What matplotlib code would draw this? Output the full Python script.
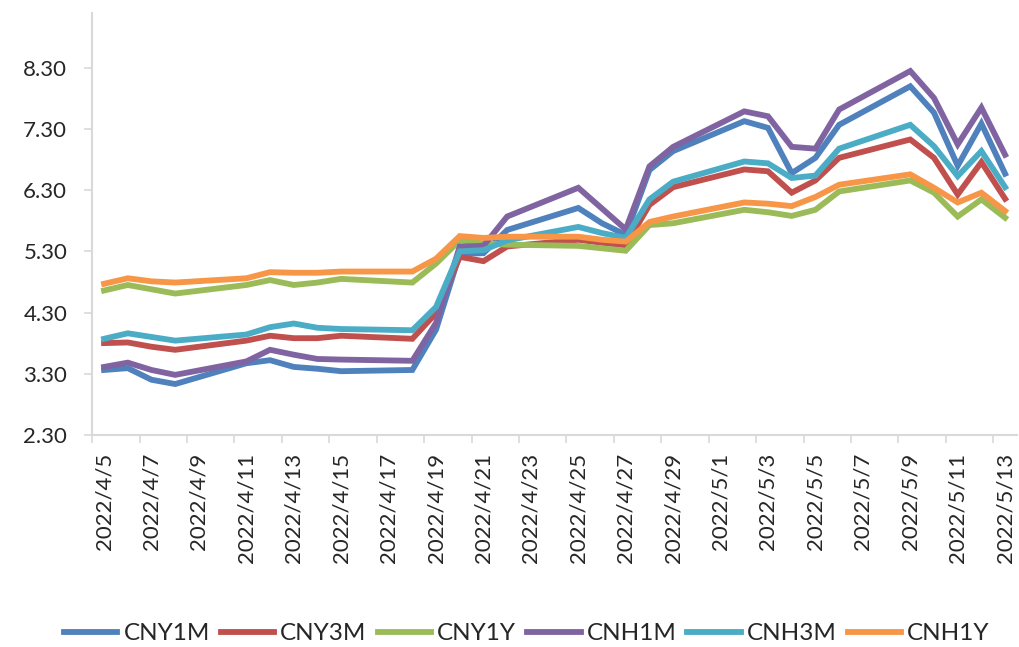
import numpy as np
import pandas as pd
import matplotlib
matplotlib.use("Agg")
import matplotlib.pyplot as plt
from matplotlib.ticker import FixedLocator, FormatStrFormatter

# trading days shown as vertices on the chart
dates = ["2022-04-05", "2022-04-06", "2022-04-07", "2022-04-08", "2022-04-11",
         "2022-04-12", "2022-04-13", "2022-04-14", "2022-04-15", "2022-04-18",
         "2022-04-19", "2022-04-20", "2022-04-21", "2022-04-22", "2022-04-25",
         "2022-04-26", "2022-04-27", "2022-04-28", "2022-04-29", "2022-05-02",
         "2022-05-03", "2022-05-04", "2022-05-05", "2022-05-06", "2022-05-09",
         "2022-05-10", "2022-05-11", "2022-05-12", "2022-05-13"]

cny1m = [3.36, 3.39, 3.20, 3.13, 3.47, 3.52, 3.41, 3.38, 3.34, 3.36,
         4.02, 5.26, 5.27, 5.65, 6.01, 5.76, 5.57, 6.63, 6.94, 7.43,
         7.32, 6.58, 6.83, 7.37, 8.00, 7.57, 6.70, 7.39, 6.57]
cny3m = [3.80, 3.81, 3.74, 3.69, 3.84, 3.92, 3.88, 3.88, 3.92, 3.87,
         4.29, 5.21, 5.14, 5.38, 5.49, 5.44, 5.40, 6.06, 6.35, 6.64,
         6.61, 6.26, 6.46, 6.83, 7.13, 6.83, 6.23, 6.76, 6.16]
cny1y = [4.66, 4.75, 4.68, 4.61, 4.75, 4.83, 4.75, 4.79, 4.85, 4.79,
         5.10, 5.48, 5.43, 5.41, 5.39, 5.35, 5.31, 5.73, 5.76, 5.98,
         5.94, 5.88, 5.98, 6.28, 6.46, 6.26, 5.87, 6.15, 5.85]
cnh1m = [3.41, 3.48, 3.36, 3.28, 3.50, 3.69, 3.61, 3.54, 3.53, 3.51,
         4.13, 5.38, 5.39, 5.87, 6.34, 6.00, 5.66, 6.69, 7.01, 7.59,
         7.51, 7.01, 6.98, 7.62, 8.25, 7.81, 7.05, 7.65, 6.88]
cnh3m = [3.87, 3.96, 3.90, 3.84, 3.94, 4.06, 4.12, 4.05, 4.03, 4.01,
         4.39, 5.30, 5.32, 5.48, 5.70, 5.60, 5.52, 6.15, 6.44, 6.77,
         6.74, 6.50, 6.54, 6.98, 7.37, 7.02, 6.53, 6.94, 6.35]
cnh1y = [4.77, 4.86, 4.81, 4.79, 4.86, 4.96, 4.95, 4.95, 4.97, 4.97,
         5.18, 5.55, 5.52, 5.54, 5.54, 5.49, 5.46, 5.78, 5.87, 6.10,
         6.08, 6.04, 6.19, 6.39, 6.56, 6.34, 6.10, 6.26, 5.96]

series = {
    "CNY1M": (cny1m, "#4F81BD"),
    "CNY3M": (cny3m, "#C0504D"),
    "CNY1Y": (cny1y, "#9BBB59"),
    "CNH1M": (cnh1m, "#8064A2"),
    "CNH3M": (cnh3m, "#4BACC6"),
    "CNH1Y": (cnh1y, "#F79646"),
}

yticks = [2.30, 3.30, 4.30, 5.30, 6.30, 7.30, 8.30]

plt.rcParams["font.family"] = ["Lato", "DejaVu Sans"]

d = pd.to_datetime(dates)
start = pd.Timestamp("2022-04-05")
end = pd.Timestamp("2022-05-13")
x = (d - start).days.values
ndays = (end - start).days

fig = plt.figure(figsize=(10.19, 6.47), dpi=100)
ax = fig.add_axes([0.0905, 0.328, 0.9075, 0.652])

for name, (vals, col) in series.items():
    ax.plot(x, vals, color=col, lw=4.2, label=name, solid_joinstyle="miter")

ax.set_xlim(-0.5, ndays + 0.5)
ax.set_ylim(2.30, 9.20)
ax.set_yticks(yticks)
ax.yaxis.set_major_formatter(FormatStrFormatter("%.2f"))

# labels every 2 days, tick marks on slot boundaries
lab_pos = np.arange(0, ndays + 1, 2)
lab_txt = [f"{t.year}/{t.month}/{t.day}" for t in (start + pd.to_timedelta(lab_pos, unit="D"))]
ax.set_xticks(lab_pos)
ax.set_xticklabels(lab_txt, rotation=90)
ax.xaxis.set_minor_locator(FixedLocator(np.arange(-0.5, ndays + 0.6, 2)))
ax.tick_params(axis="x", which="major", length=0, pad=13, labelsize=16, labelcolor="#262626")
ax.tick_params(axis="x", which="minor", length=6, color="#D9D9D9", width=1.2)
ax.tick_params(axis="y", length=6, color="#D9D9D9", width=1.2, labelsize=16, pad=12,
               labelcolor="#262626")

for s in ["top", "right"]:
    ax.spines[s].set_visible(False)
for s in ["left", "bottom"]:
    ax.spines[s].set_color("#D9D9D9")
    ax.spines[s].set_linewidth(1.5)

fig.legend(loc="lower center", bbox_to_anchor=(0.517, -0.022), ncol=6, frameon=False,
           fontsize=17.5, handlelength=2.2, handletextpad=0.25, columnspacing=0.45,
           labelcolor="#262626", borderpad=0.2)

fig.savefig("out.png", dpi=100)
